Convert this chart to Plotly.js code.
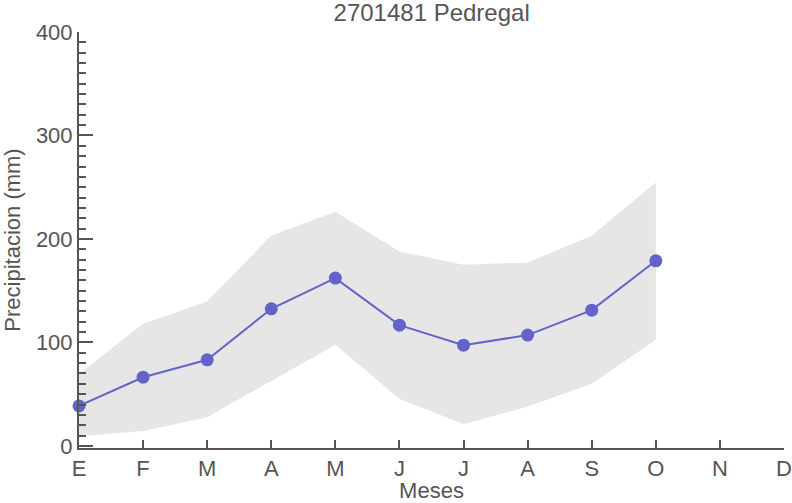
<!DOCTYPE html>
<html>
<head>
<meta charset="utf-8">
<script src="https://cdn.plot.ly/plotly-3.0.1.min.js"></script>
<style>html,body{margin:0;padding:0;background:#fff;}#chart{width:792px;height:503px;}</style>
</head>
<body>
<div id="chart"></div>
<script>
var months = ["E","F","M","A","M ","J","J ","A ","S","O","N","D"];
var tickLabels = ["E","F","M","A","M","J","J","A","S","O","N","D"];
var meanVals  = [38.7, 66.4, 83.2, 132.5, 162.2, 116.7, 97.4, 107.1, 131.2, 178.9];
var upperVals = [69.6, 118, 139.6, 203.4, 226.3, 187.9, 175, 177.3, 203.1, 254.6];
var lowerVals = [9, 14.5, 27.8, 62.9, 97.7, 45.5, 21, 38, 60, 102.5];
var dataMonths = months.slice(0, meanVals.length);

var txt = '#555555';
var traces = [
  {x: dataMonths, y: upperVals, type:'scatter', mode:'lines', line:{width:0, color:'rgba(0,0,0,0)'}, hoverinfo:'skip', showlegend:false},
  {x: dataMonths, y: lowerVals, type:'scatter', mode:'lines', line:{width:0, color:'rgba(0,0,0,0)'}, fill:'tonexty', fillcolor:'#e6e6e6', hoverinfo:'skip', showlegend:false},
  {x: dataMonths, y: meanVals, type:'scatter', mode:'lines+markers', line:{color:'#6464c8', width:2}, marker:{color:'#6464c8', size:13}, showlegend:false, cliponaxis:false}
];

var layout = {
  width: 792, height: 503,
  margin: {l:79, r:8, t:32, b:55},
  paper_bgcolor:'#fff', plot_bgcolor:'#fff',
  font: {family:'"Liberation Sans", Arial, sans-serif', color: txt, size: 22},
  title: {text:'2701481 Pedregal', font:{size:24, color:txt}, x:0.545, xanchor:'center', y:1, yanchor:'top', pad:{t:4}},
  xaxis: {
    type:'category', categoryarray: months, categoryorder:'array',
    tickvals: months, ticktext: tickLabels,
    range:[0, 11], showgrid:false, zeroline:false,
    showline:true, linecolor:'#555', linewidth:2,
    ticks:'inside', ticklen:8, tickcolor:'#555', tickwidth:2,
    tickfont:{size:22, color:txt},
    title:{text:'Meses', font:{size:22, color:txt}, standoff:0}
  },
  yaxis: {
    range:[-2, 400], dtick:100, tick0:0, showgrid:false, zeroline:false,
    showline:true, linecolor:'#555', linewidth:2,
    ticks:'inside', ticklen:14, tickcolor:'#555', tickwidth:2,
    minor:{dtick:10, ticks:'inside', ticklen:7, tickcolor:'#555', tickwidth:2, showgrid:false},
    tickfont:{size:22, color:txt},
    title:{text:'Precipitacion (mm)', font:{size:22, color:txt}, standoff:10}
  }
};
Plotly.newPlot('chart', traces, layout, {displayModeBar:false, staticPlot:true});
</script>
</body>
</html>
